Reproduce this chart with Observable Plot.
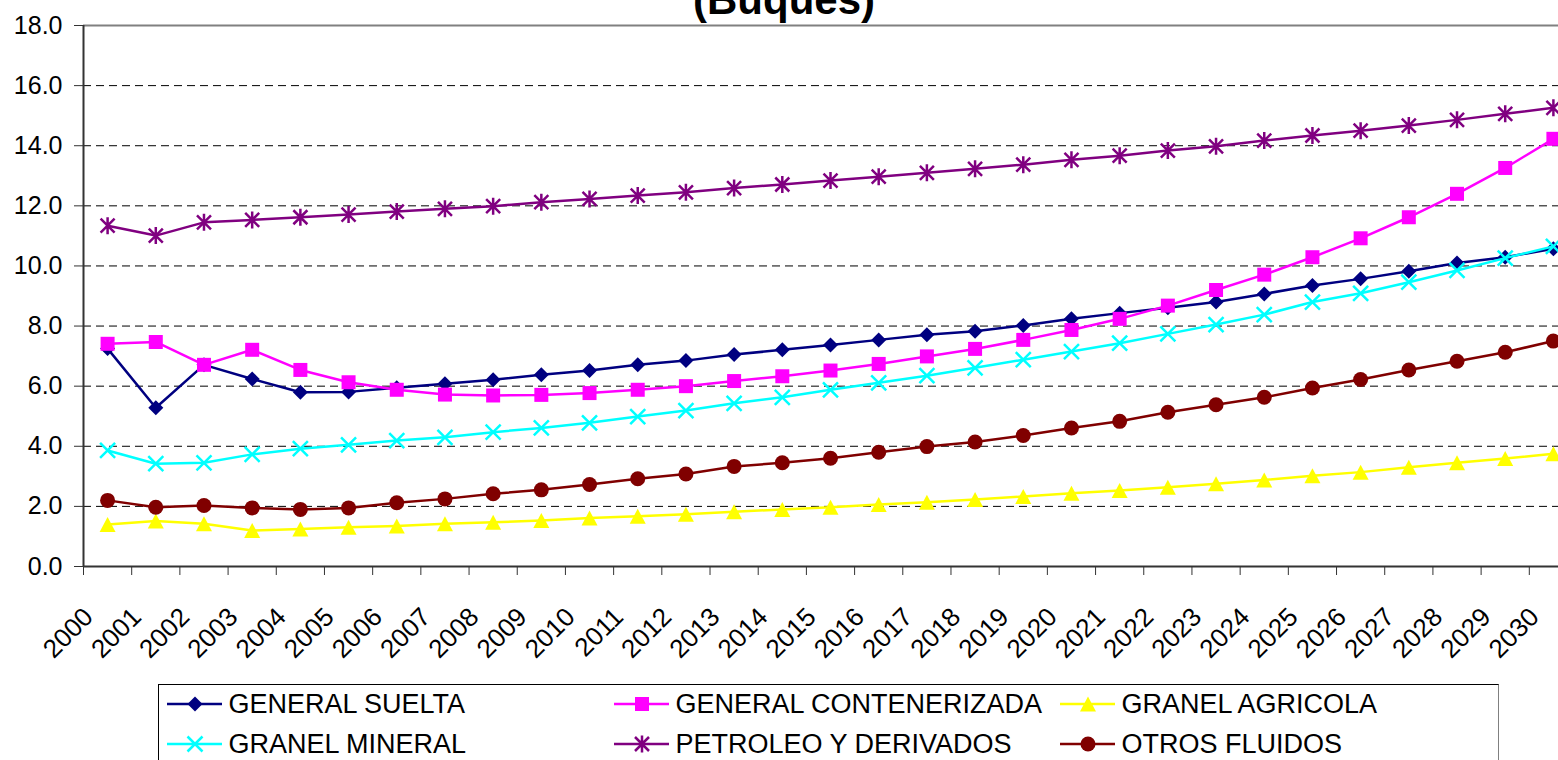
<!DOCTYPE html>
<html>
<head>
<meta charset="utf-8">
<script src="https://cdn.jsdelivr.net/npm/d3@7"></script>
<script src="https://cdn.jsdelivr.net/npm/@observablehq/plot@0.6"></script>
<style>
  html, body { margin: 0; padding: 0; background: #fff; }
  body { width: 1558px; height: 760px; overflow: hidden; position: relative; font-family: "Liberation Sans", Arial, sans-serif; }
  #chart { position: absolute; left: 0; top: 0; }
  #chart svg { max-width: none !important; overflow: visible; }
  #title { position: absolute; left: 0; top: 0; overflow: visible; }
  #legend { position: absolute; left: 158px; top: 684px; width: 1341px; height: 120px; border: 1.5px solid #000; border-right-color: #808080; box-sizing: border-box; }
  .item { position: absolute; height: 30px; display: flex; align-items: center; white-space: nowrap; font-size: 27px; line-height: 30px; color: #000; }
  .item span { margin-left: 7px; }
</style>
</head>
<body>
<svg id="title" width="1558" height="30"><text x="784" y="14" text-anchor="middle" font-family="Liberation Sans, Arial, sans-serif" font-weight="bold" font-size="42">(Buques)</text></svg>
<div id="chart"></div>
<div id="legend"></div>
<script>
const years = d3.range(2000, 2031);
const seriesNames = ["GENERAL SUELTA", "GENERAL CONTENERIZADA", "GRANEL AGRICOLA", "GRANEL MINERAL", "PETROLEO Y DERIVADOS", "OTROS FLUIDOS"];
const seriesColors = ["#000080", "#FF00FF", "#FFFF00", "#00FFFF", "#800080", "#800000"];

const generalSuelta = [7.25, 5.28, 6.71, 6.24, 5.80, 5.81, 5.95, 6.08, 6.21, 6.38, 6.52, 6.71, 6.85, 7.05, 7.21, 7.37, 7.54, 7.71, 7.83, 8.02, 8.24, 8.43, 8.61, 8.80, 9.07, 9.35, 9.57, 9.82, 10.10, 10.29, 10.57];
const generalContenerizada = [7.41, 7.47, 6.71, 7.21, 6.54, 6.13, 5.88, 5.72, 5.69, 5.71, 5.77, 5.88, 6.00, 6.17, 6.33, 6.52, 6.74, 6.99, 7.24, 7.54, 7.87, 8.24, 8.68, 9.20, 9.71, 10.29, 10.92, 11.62, 12.40, 13.26, 14.23];
const granelAgricola = [1.40, 1.51, 1.42, 1.20, 1.25, 1.31, 1.35, 1.42, 1.47, 1.53, 1.61, 1.67, 1.74, 1.82, 1.90, 1.97, 2.06, 2.14, 2.23, 2.33, 2.44, 2.53, 2.64, 2.75, 2.88, 3.02, 3.14, 3.30, 3.45, 3.59, 3.75];
const granelMineral = [3.86, 3.42, 3.45, 3.73, 3.92, 4.05, 4.19, 4.30, 4.47, 4.61, 4.78, 4.99, 5.19, 5.43, 5.63, 5.88, 6.11, 6.35, 6.61, 6.88, 7.15, 7.43, 7.74, 8.05, 8.38, 8.80, 9.09, 9.46, 9.85, 10.26, 10.65];
const petroleoDerivados = [11.34, 11.01, 11.45, 11.53, 11.62, 11.71, 11.81, 11.90, 11.99, 12.12, 12.23, 12.34, 12.45, 12.59, 12.71, 12.84, 12.97, 13.10, 13.23, 13.37, 13.53, 13.67, 13.84, 13.98, 14.17, 14.34, 14.50, 14.67, 14.86, 15.06, 15.26];
const otrosFluidos = [2.20, 1.97, 2.03, 1.95, 1.90, 1.95, 2.12, 2.25, 2.42, 2.55, 2.73, 2.92, 3.08, 3.33, 3.45, 3.60, 3.80, 3.99, 4.14, 4.36, 4.61, 4.83, 5.13, 5.38, 5.63, 5.94, 6.22, 6.54, 6.83, 7.13, 7.50];
const seriesValues = [generalSuelta, generalContenerizada, granelAgricola, granelMineral, petroleoDerivados, otrosFluidos];

const yTicks = [0, 2, 4, 6, 8, 10, 12, 14, 16, 18];
const gridValues = [2, 4, 6, 8, 10, 12, 14, 16];
const xBoundaries = d3.range(1999.5, 2031, 1);

// marker shapes (fixed pixel sizes, Excel-like)
const symDiamond = {draw(c) { const h = 7.5; c.moveTo(0, -h); c.lineTo(h, 0); c.lineTo(0, h); c.lineTo(-h, 0); c.closePath(); }};
const symSquare = {draw(c) { const h = 7; c.rect(-h, -h, 2 * h, 2 * h); }};
const symTriangle = {draw(c) { c.moveTo(0, -7.5); c.lineTo(8, 7.5); c.lineTo(-8, 7.5); c.closePath(); }};
const symTimes = {draw(c) { const h = 7.5; c.moveTo(-h, -h); c.lineTo(h, h); c.moveTo(h, -h); c.lineTo(-h, h); }};
const symAsterisk = {draw(c) { const h = 7; c.moveTo(-h, -h); c.lineTo(h, h); c.moveTo(h, -h); c.lineTo(-h, h); c.moveTo(0, -8.5); c.lineTo(0, 8.5); }};
const symCircle = {draw(c) { const r = 7.5; c.moveTo(r, 0); c.arc(0, 0, r, 0, 2 * Math.PI); }};
const seriesSymbols = [symDiamond, symSquare, symTriangle, symTimes, symAsterisk, symCircle];
const seriesFilled = [true, true, true, false, false, true];

const rows = [];
seriesNames.forEach((name, i) => years.forEach((yr, j) => rows.push({series: name, year: yr, value: seriesValues[i][j]})));

const marks = [
  Plot.ruleY(gridValues, {stroke: "#000", strokeWidth: 1, strokeDasharray: "8,5"}),
  Plot.ruleY([18], {stroke: "#808080", strokeWidth: 2})
];
seriesNames.forEach((name, i) => {
  const data = rows.filter(d => d.series === name);
  marks.push(Plot.line(data, {x: "year", y: "value", stroke: seriesColors[i], strokeWidth: 2.5}));
  marks.push(Plot.dot(data, seriesFilled[i]
    ? {x: "year", y: "value", symbol: seriesSymbols[i], r: 5, fill: seriesColors[i], stroke: "none"}
    : {x: "year", y: "value", symbol: seriesSymbols[i], r: 5, fill: "none", stroke: seriesColors[i], strokeWidth: 2.5}));
});
marks.push(
  Plot.ruleX([1999.5], {y1: 0, y2: 18, stroke: "#333", strokeWidth: 2}),
  Plot.ruleY([0], {stroke: "#333", strokeWidth: 2}),
  Plot.axisY(yTicks, {tickSize: 9, tickPadding: 12, tickFormat: d => d.toFixed(1), fontSize: 25, stroke: "#333", label: null}),
  Plot.axisX(xBoundaries, {tickSize: 9, tickFormat: () => "", stroke: "#333", label: null}),
  Plot.text(years, {x: d => d, frameAnchor: "bottom", rotate: -45, textAnchor: "end", dx: -13, dy: 52, fontSize: 26, fill: "#000", text: d => String(d)})
);

const chart = Plot.plot({
  width: 1577,
  height: 660,
  marginLeft: 83,
  marginRight: 0,
  marginTop: 25,
  marginBottom: 94,
  x: {type: "linear", domain: [1999.5, 2030.5], axis: null},
  y: {domain: [0, 18], axis: null},
  style: {fontFamily: "Liberation Sans, Arial, sans-serif", background: "transparent", maxWidth: "none", overflow: "visible"},
  marks
});
document.getElementById("chart").appendChild(chart);

// legend
const legend = document.getElementById("legend");
const colX = [167, 614, 1060];
const rowY = [704, 744];
seriesNames.forEach((name, i) => {
  const col = i % 3, row = Math.floor(i / 3);
  const item = document.createElement("div");
  item.className = "item";
  item.style.left = (colX[col] - 158 - 1.5) + "px";
  item.style.top = (rowY[row] - 15 - 684 - 1.5) + "px";
  const p = d3.path();
  seriesSymbols[i].draw(p);
  const fill = seriesFilled[i] ? seriesColors[i] : "none";
  const stroke = seriesFilled[i] ? "none" : seriesColors[i];
  item.innerHTML = `<svg width="55" height="30"><line x1="0" x2="55" y1="15" y2="15" stroke="${seriesColors[i]}" stroke-width="2.5"/><path transform="translate(28,15)" d="${p.toString()}" fill="${fill}" stroke="${stroke}" stroke-width="2.5"/></svg><span>${name}</span>`;
  legend.appendChild(item);
});
</script>
</body>
</html>
